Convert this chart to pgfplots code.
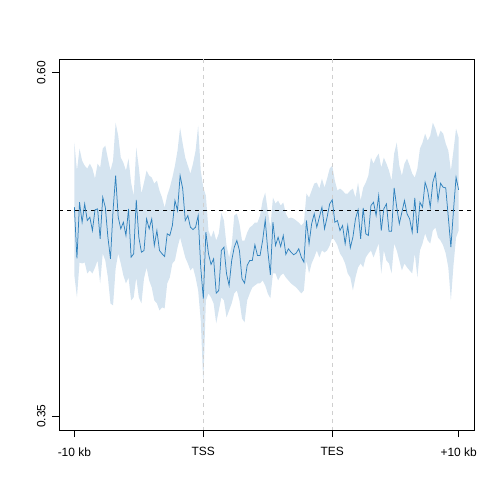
\documentclass[border=0pt]{standalone}
\usepackage{fontspec}
\setmainfont{Liberation Sans}
\usepackage{pgfplots}
\usepackage{pgfplotstable}
\pgfplotsset{compat=1.18}
\usepgfplotslibrary{fillbetween}
\definecolor{lineblue}{HTML}{3182BD}
\definecolor{bandblue}{HTML}{D5E4F0}
\definecolor{vgray}{HTML}{CFCFCF}
\pgfplotstableread{
i y u l
1 206.7 142 275
2 258 170 297
3 201.7 148 262
4 221.7 160 263
5 203.3 165 262
6 220 168 273
7 216.7 163 270
8 230 168 273
9 209.3 178 267
10 208.3 163 260
11 238.3 167 283
12 196.7 148 253
13 206.7 145 260
14 236.7 158 277
15 258.3 170 303
16 210 160 305
17 175 122 268
18 216.7 135 253
19 228.3 157 263
20 221.7 162 275
21 235 170 283
22 208.3 158 277
23 256.7 182 300
24 253.3 195 297
25 199.3 147 277
26 236.7 167 297
27 251.7 193 303
28 250 182 278
29 218.3 170 267
30 228.3 175 280
31 218.3 177 287
32 245 183 300
33 230 180 303
34 250 190 310
35 253.3 197 307
36 256 207 308
37 233.3 195 283
38 235 187 277
39 225 177 263
40 200 165 260
41 210 150 247
42 175 127 237
43 188 143 247
44 220 157 257
45 215 165 263
46 226.7 173 270
47 229 163 267
48 226.7 150 277
49 215 125 290
50 266.7 170 320
51 298.3 187 383
52 231.7 195 300
53 253.3 230 293
54 264 237 297
55 258.3 230 303
56 292.7 240 323
57 290 233 310
58 250 212 297
59 246.7 220 300
60 273.3 245 317
61 285 257 310
62 260 245 303
63 246.7 215 293
64 240 213 290
65 250 223 300
66 278.3 240 318
67 282.7 240 322
68 265 232 300
69 260 227 293
70 260 225 287
71 244.3 222 285
72 255 222 283
73 255 215 283
74 240 200 280
75 219.3 192 285
76 250 210 293
77 274.3 227 298
78 221.7 197 273
79 245 203 273
80 236.7 200 280
81 246 205 275
82 235 202 273
83 254 213 277
84 248.3 218 280
85 251.7 217 283
86 254.3 218 285
87 252.7 220 287
88 248.3 222 290
89 256.7 225 293
90 261.7 222 290
91 220 193 260
92 243.3 197 273
93 223.3 190 263
94 213.3 183 257
95 226.7 182 250
96 216.7 188 257
97 206.7 178 250
98 228.3 187 252
99 216.7 178 250
100 203.3 168 245
101 199.3 165 237
102 221.7 180 240
103 220 190 245
104 230 188 253
105 225 190 257
106 243.3 193 263
107 225 193 273
108 247.3 190 277
109 236.7 188 290
110 218.3 197 277
111 209.3 182 267
112 238.3 200 263
113 207.3 187 267
114 233.3 182 257
115 235 175 253
116 205 157 250
117 201.7 163 257
118 215 157 250
119 195 153 243
120 230 167 273
121 208.3 157 250
122 203.3 163 260
123 230.7 170 263
124 230.7 180 273
125 187.3 153 243
126 206.7 142 250
127 223.3 165 260
128 211.7 175 270
129 200 163 263
130 213.3 158 267
131 218.3 165 270
132 231.7 173 273
133 197.3 177 253
134 232.7 168 277
135 201.7 148 250
136 206.7 142 243
137 181.7 133 233
138 190 140 240
139 206.7 135 243
140 181.7 122 230
141 172.7 128 227
142 200 137 237
143 182.7 130 240
144 186.7 133 245
145 187.3 143 253
146 216.7 150 267
147 246.7 170 300
148 210 150 265
149 176.7 128 237
150 189.3 137 230
}\data
\begin{document}
\begin{tikzpicture}
\path (0,0) rectangle (504bp,504bp);
\begin{axis}[
  at={(59bp,74bp)}, anchor=south west,
  scale only axis, width=415bp, height=371bp,
  xmin=-4.96, xmax=155.96, ymin=58.24, ymax=429.76,
  y dir=reverse,
  xtick={1,51,101,150}, xticklabels={-10 kb,TSS,TES,+10 kb},
  ytick={72,416}, yticklabels={0.60,0.35},
  xtick pos=bottom, ytick pos=left,
  tick align=outside, major tick length=7bp,
  tick style={black, line width=0.75bp},
  axis line style={black, line width=0.75bp},
  ticklabel style={font=\fontsize{12}{14}\selectfont},
  xticklabel style={yshift=-7bp},
  yticklabel style={xshift=-3bp, rotate=90, anchor=south},
]
\addplot[name path=U, draw=none, forget plot] table[x=i, y=u] {\data};
\addplot[name path=L, draw=none, forget plot] table[x=i, y=l] {\data};
\addplot[fill=bandblue, draw=none, forget plot] fill between[of=U and L];
\addplot[vgray, line width=0.75bp, dash pattern=on 4bp off 4bp] coordinates {(51,58.24) (51,429.76)};
\addplot[vgray, line width=0.75bp, dash pattern=on 4bp off 4bp] coordinates {(101,58.24) (101,429.76)};
\addplot[black, line width=0.75bp, dash pattern=on 4bp off 4bp] coordinates {(-4.96,210) (155.96,210)};
\addplot[lineblue, line width=0.75bp] table[x=i, y=y] {\data};
\end{axis}
\end{tikzpicture}
\end{document}
